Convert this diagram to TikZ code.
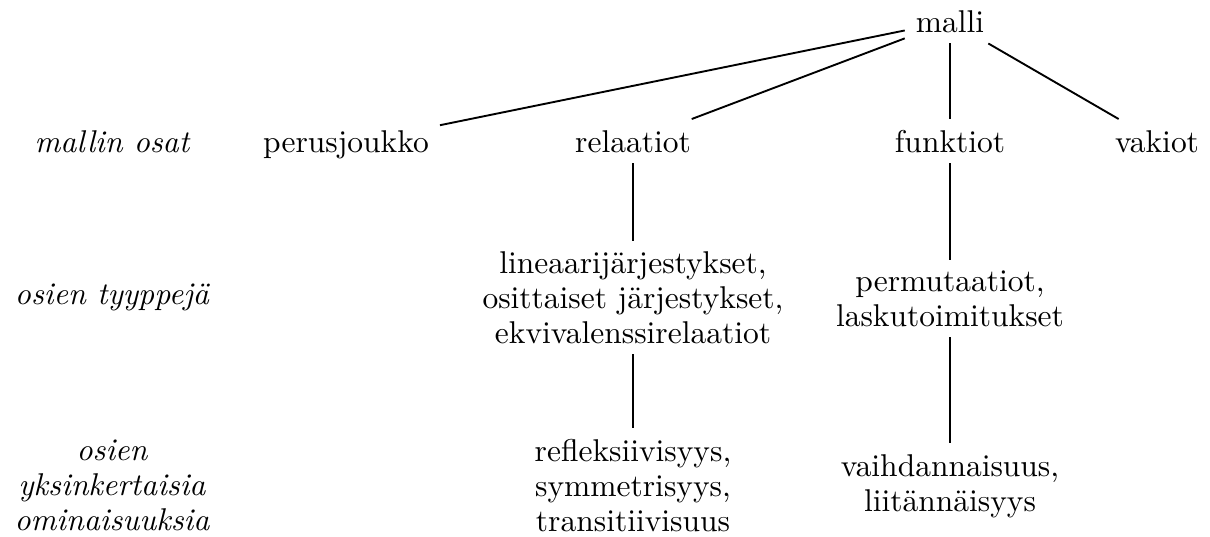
\documentclass[tikz,border=0pt]{standalone}
\begin{document}
\begin{tikzpicture}[x=0.3175pt,y=-0.3175pt,
  every node/.style={font=\fontsize{10}{11}\selectfont, align=center, anchor=base},
  lab/.style={font=\fontsize{10}{11}\selectfont\itshape},
  edge/.style={line width=0.6pt}]
\useasboundingbox (0,0) rectangle (1210,536);
% top
\node (malli) at (950,32) {malli};
% row 1
\node[lab] (osat) at (112,152) {mallin osat};
\node (perus) at (346,152) {perusjoukko};
\node (rel) at (633,152) {relaatiot};
\node (fun) at (950,152) {funktiot};
\node (vak) at (1157,152) {vakiot};
% row 2 (base = last line)
\node[lab] (tyyp) at (112,304) {osien tyyppejä};
\node (lin) at (633,343) {lineaarijärjestykset,\\osittaiset järjestykset,\\ekvivalenssirelaatiot};
\node (perm) at (950,326) {permutaatiot,\\laskutoimitukset};
% row 3 (base = last line)
\node[lab] (omin) at (112,530) {osien\\yksinkertaisia\\ominaisuuksia};
\node (refl) at (633,531) {refleksiivisyys,\\symmetrisyys,\\transitiivisuus};
\node (vaih) at (950,511) {vaihdannaisuus,\\liitännäisyys};
% connectors
\draw[edge] (malli) -- (perus);
\draw[edge] (malli) -- (rel);
\draw[edge] (malli) -- (fun);
\draw[edge] (malli) -- (vak);
\draw[edge] (rel) -- (lin);
\draw[edge] (lin) -- (refl);
\draw[edge] (fun) -- (perm);
\draw[edge] (perm) -- (vaih);
\end{tikzpicture}
\end{document}
